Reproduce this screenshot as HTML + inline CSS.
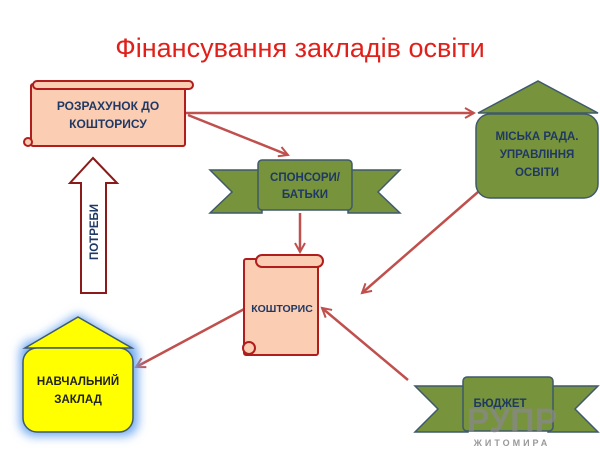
<!DOCTYPE html>
<html><head><meta charset="utf-8"><style>
body{margin:0;background:#fff;width:600px;height:453px;overflow:hidden}
text{font-family:"Liberation Sans",sans-serif}
</style></head><body>
<svg width="600" height="453" viewBox="0 0 600 453" xmlns="http://www.w3.org/2000/svg">
<defs>
<marker id="a" markerWidth="12" markerHeight="12" refX="10" refY="6" orient="auto" markerUnits="userSpaceOnUse"><path d="M1,1 L10,6 L1,11" fill="none" stroke="#c0504d" stroke-width="2"/></marker>
<filter id="g" x="-30%" y="-30%" width="160%" height="160%"><feGaussianBlur stdDeviation="5"/></filter>
</defs>
<text x="300" y="57" text-anchor="middle" font-size="27" fill="#e0201a">Фінансування закладів освіти</text>

<g stroke="#c0504d" stroke-width="2.5" fill="none">
<line x1="186" y1="113" x2="474" y2="113" marker-end="url(#a)"/>
<line x1="188" y1="115" x2="288" y2="155" marker-end="url(#a)"/>
<line x1="300" y1="213" x2="300" y2="252" marker-end="url(#a)"/>
<line x1="478" y1="192" x2="362" y2="293" marker-end="url(#a)"/>
<line x1="248" y1="307" x2="136" y2="367" marker-end="url(#a)"/>
<line x1="408" y1="380" x2="322" y2="308" marker-end="url(#a)"/>
</g>

<g stroke="#b01d1d" stroke-width="2" fill="#fbcdb3">
<rect x="31" y="84" width="154" height="62" rx="2"/>
<rect x="33" y="81" width="160" height="8" rx="4"/>
<circle cx="28" cy="142" r="4"/>
</g>
<text x="108" y="110" text-anchor="middle" font-size="12" font-weight="bold" fill="#1f3864">РОЗРАХУНОК ДО</text>
<text x="108" y="128" text-anchor="middle" font-size="12" font-weight="bold" fill="#1f3864">КОШТОРИСУ</text>

<path d="M93,158 L117,183 L106,183 L106,293 L81,293 L81,183 L70,183 Z" fill="#fff" stroke="#8b1a1a" stroke-width="2"/>
<text transform="translate(98,232) rotate(-90)" text-anchor="middle" font-size="11.5" font-weight="bold" fill="#1f3864">ПОТРЕБИ</text>

<g stroke="#3f5a6a" stroke-width="1.5" fill="#77933c">
<path d="M210,170 L262,170 L262,213 L210,213 L232,192 Z"/>
<path d="M400,170 L348,170 L348,213 L400,213 L378,192 Z"/>
<rect x="258" y="160" width="94" height="50" rx="4"/>
</g>
<text x="305" y="181" text-anchor="middle" font-size="11.5" font-weight="bold" fill="#1f3864">СПОНСОРИ/</text>
<text x="305" y="198" text-anchor="middle" font-size="11.5" font-weight="bold" fill="#1f3864">БАТЬКИ</text>

<g stroke="#3f5a6a" stroke-width="1.5" fill="#77933c">
<path d="M478,113 L538,81 L598,113 Z"/>
<rect x="476" y="114" width="122" height="84" rx="14"/>
</g>
<text x="537" y="140" text-anchor="middle" font-size="11.5" font-weight="bold" fill="#1f3864">МІСЬКА РАДА.</text>
<text x="537" y="158" text-anchor="middle" font-size="11.5" font-weight="bold" fill="#1f3864">УПРАВЛІННЯ</text>
<text x="537" y="176" text-anchor="middle" font-size="11.5" font-weight="bold" fill="#1f3864">ОСВІТИ</text>

<g stroke="#b01d1d" stroke-width="2" fill="#fbcdb3">
<rect x="244" y="259" width="74" height="96" rx="2"/>
<rect x="256" y="255" width="67" height="12" rx="6"/>
<circle cx="249" cy="348" r="6"/>
</g>
<text x="282" y="312" text-anchor="middle" font-size="10.5" font-weight="bold" fill="#1f3864">КОШТОРИС</text>

<g filter="url(#g)" fill="#6fa8f0"><rect x="20" y="340" width="118" height="96" rx="14"/><path d="M22,350 L78,314 L136,350Z"/></g>
<g stroke="#3f5a6a" stroke-width="1.5" fill="#ffff00">
<path d="M25,348 L78,317 L132,348 Z"/>
<rect x="23" y="348" width="110" height="84" rx="14"/>
</g>
<text x="78" y="385" text-anchor="middle" font-size="11.5" font-weight="bold" fill="#222">НАВЧАЛЬНИЙ</text>
<text x="78" y="403" text-anchor="middle" font-size="11.5" font-weight="bold" fill="#222">ЗАКЛАД</text>

<g stroke="#3f5a6a" stroke-width="1.5" fill="#77933c">
<path d="M415,386 L468,386 L468,432 L415,432 L438,409 Z"/>
<path d="M598,386 L548,386 L548,432 L598,432 L575,409 Z"/>
<rect x="463" y="377" width="90" height="54" rx="4"/>
</g>
<text x="500" y="407" text-anchor="middle" font-size="11.5" font-weight="bold" fill="#1f3864">БЮДЖЕТ</text>
<text x="512" y="432" text-anchor="middle" font-size="34" font-weight="bold" fill="#888" opacity="0.75">РУПР</text>
<text x="512" y="446" text-anchor="middle" font-size="9" font-weight="bold" fill="#999" letter-spacing="3">ЖИТОМИРА</text>
</svg>
</body></html>
